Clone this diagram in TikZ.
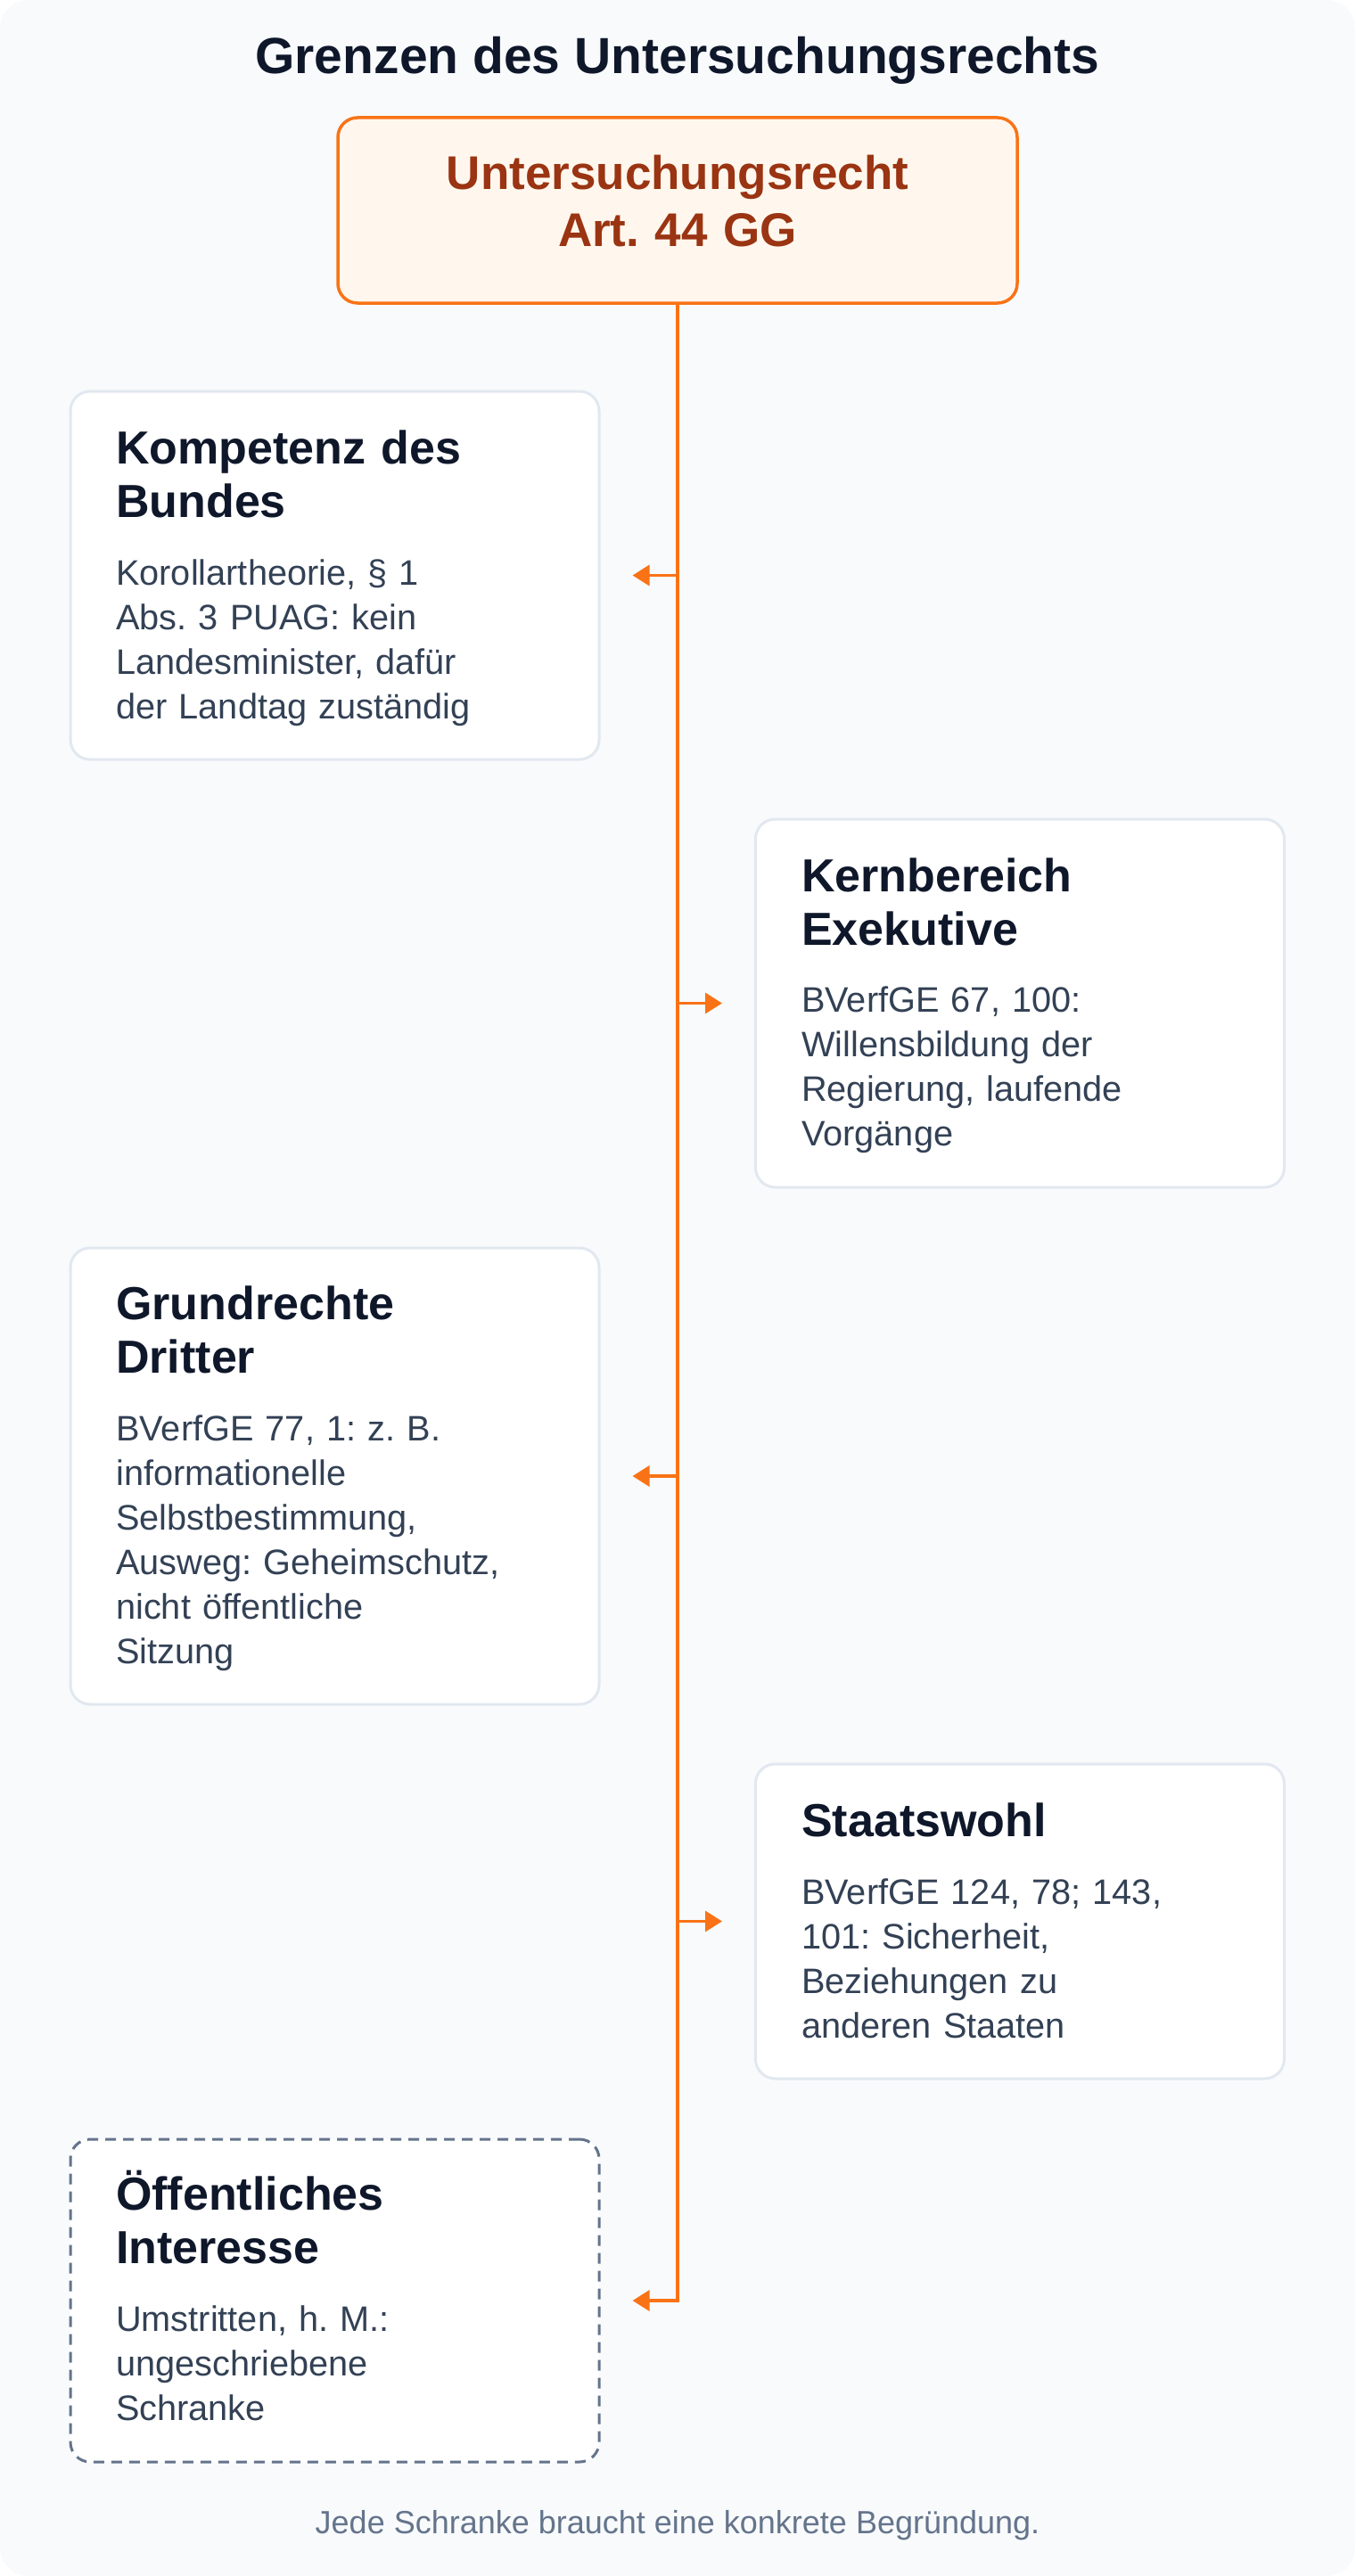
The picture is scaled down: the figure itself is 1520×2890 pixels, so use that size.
\documentclass[tikz,border=0pt]{standalone}
\usepackage{fontspec}
\setmainfont{Liberation Sans}
\usetikzlibrary{arrows.meta}
\frenchspacing
\definecolor{pagebg}{HTML}{F8FAFC}
\definecolor{ink}{HTML}{0F172A}
\definecolor{bodyink}{HTML}{334155}
\definecolor{muted}{HTML}{64748B}
\definecolor{cardline}{HTML}{E2E8F0}
\definecolor{accent}{HTML}{F97316}
\definecolor{accentfill}{HTML}{FFF7ED}
\definecolor{accentink}{HTML}{9A3412}
\tikzset{
  card/.style={rectangle, rounded corners=22pt, draw=cardline, line width=3pt, fill=white, inner sep=0pt, minimum width=593pt},
  dashcard/.style={card, draw=muted, dash pattern=on 12pt off 8pt},
  topbox/.style={rectangle, rounded corners=22pt, draw=accent, line width=3.5pt, fill=accentfill, inner sep=0pt, minimum width=762pt, minimum height=208pt},
  toptext/.style={font=\frenchspacing\bfseries\fontsize{53}{64}\selectfont, text=accentink, align=center, text width=740pt, inner sep=0pt, anchor=base},
  cardtitle/.style={font=\frenchspacing\bfseries\fontsize{52}{60}\selectfont, text=ink, align=left, text width=540pt, inner sep=0pt, anchor=base west},
  cardbody/.style={font=\frenchspacing\fontsize{39.7}{50}\selectfont, text=bodyink, align=left, text width=540pt, inner sep=0pt, anchor=base west},
  branch/.style={draw=accent, line width=3.5pt, -{Triangle[length=19pt, width=23pt]}, shorten >=36pt},
}
\begin{document}
\begin{tikzpicture}[x=1pt, y=-1pt]
\useasboundingbox (0,0) rectangle (1520,2890);
\fill[pagebg, rounded corners=32pt] (0,0) rectangle (1520,2890);

\node[font=\bfseries\fontsize{57}{66}\selectfont, text=ink, anchor=base, inner sep=0pt] (title) at (760,83) {Grenzen des Untersuchungsrechts};

\node[topbox] (top) at (760,236) {};
\node[toptext] (toptxt) at (760,212) {Untersuchungsrecht\\Art. 44 GG};

% cards
\node[card, minimum height=413pt] (b1) at (375.5,645.5) {};
\node[cardtitle] (b1t) at (130,520) {Kompetenz des\\Bundes};
\node[cardbody] (b1b) at (130,656) {Korollartheorie, § 1\\Abs. 3 PUAG: kein\\Landesminister, dafür\\der Landtag zuständig};

\node[card, minimum height=413pt] (b2) at (1144,1125.5) {};
\node[cardtitle] (b2t) at (899,1000) {Kernbereich\\Exekutive};
\node[cardbody] (b2b) at (899,1135) {BVerfGE 67, 100:\\Willensbildung der\\Regierung, laufende\\Vorgänge};

\node[card, minimum height=512pt] (b3) at (375.5,1656) {};
\node[cardtitle] (b3t) at (130,1480) {Grundrechte\\Dritter};
\node[cardbody] (b3b) at (130,1616) {BVerfGE 77, 1: z. B.\\informationelle\\Selbstbestimmung,\\Ausweg: Geheimschutz,\\nicht öffentliche\\Sitzung};

\node[card, minimum height=353pt] (b4) at (1144,2155.5) {};
\node[cardtitle] (b4t) at (899,2060) {Staatswohl};
\node[cardbody] (b4b) at (899,2136) {BVerfGE 124, 78; 143,\\101: Sicherheit,\\Beziehungen zu\\anderen Staaten};

\node[dashcard, minimum height=362pt] (b5) at (375.5,2581) {};
\node[cardtitle] (b5t) at (130,2479) {Öffentliches\\Interesse};
\node[cardbody] (b5b) at (130,2615) {Umstritten, h. M.:\\ungeschriebene\\Schranke};

% connectors
\draw[branch] (top.south) |- (b5.east);
\draw[branch] (top.south |- b1.east) -- (b1.east);
\draw[branch] (top.south |- b2.west) -- (b2.west);
\draw[branch] (top.south |- b3.east) -- (b3.east);
\draw[branch] (top.south |- b4.west) -- (b4.west);

\node[font=\frenchspacing\fontsize{36}{42}\selectfont, text=muted, anchor=base, inner sep=0pt] (foot) at (760,2842) {Jede Schranke braucht eine konkrete Begründung.};
\end{tikzpicture}
\end{document}
